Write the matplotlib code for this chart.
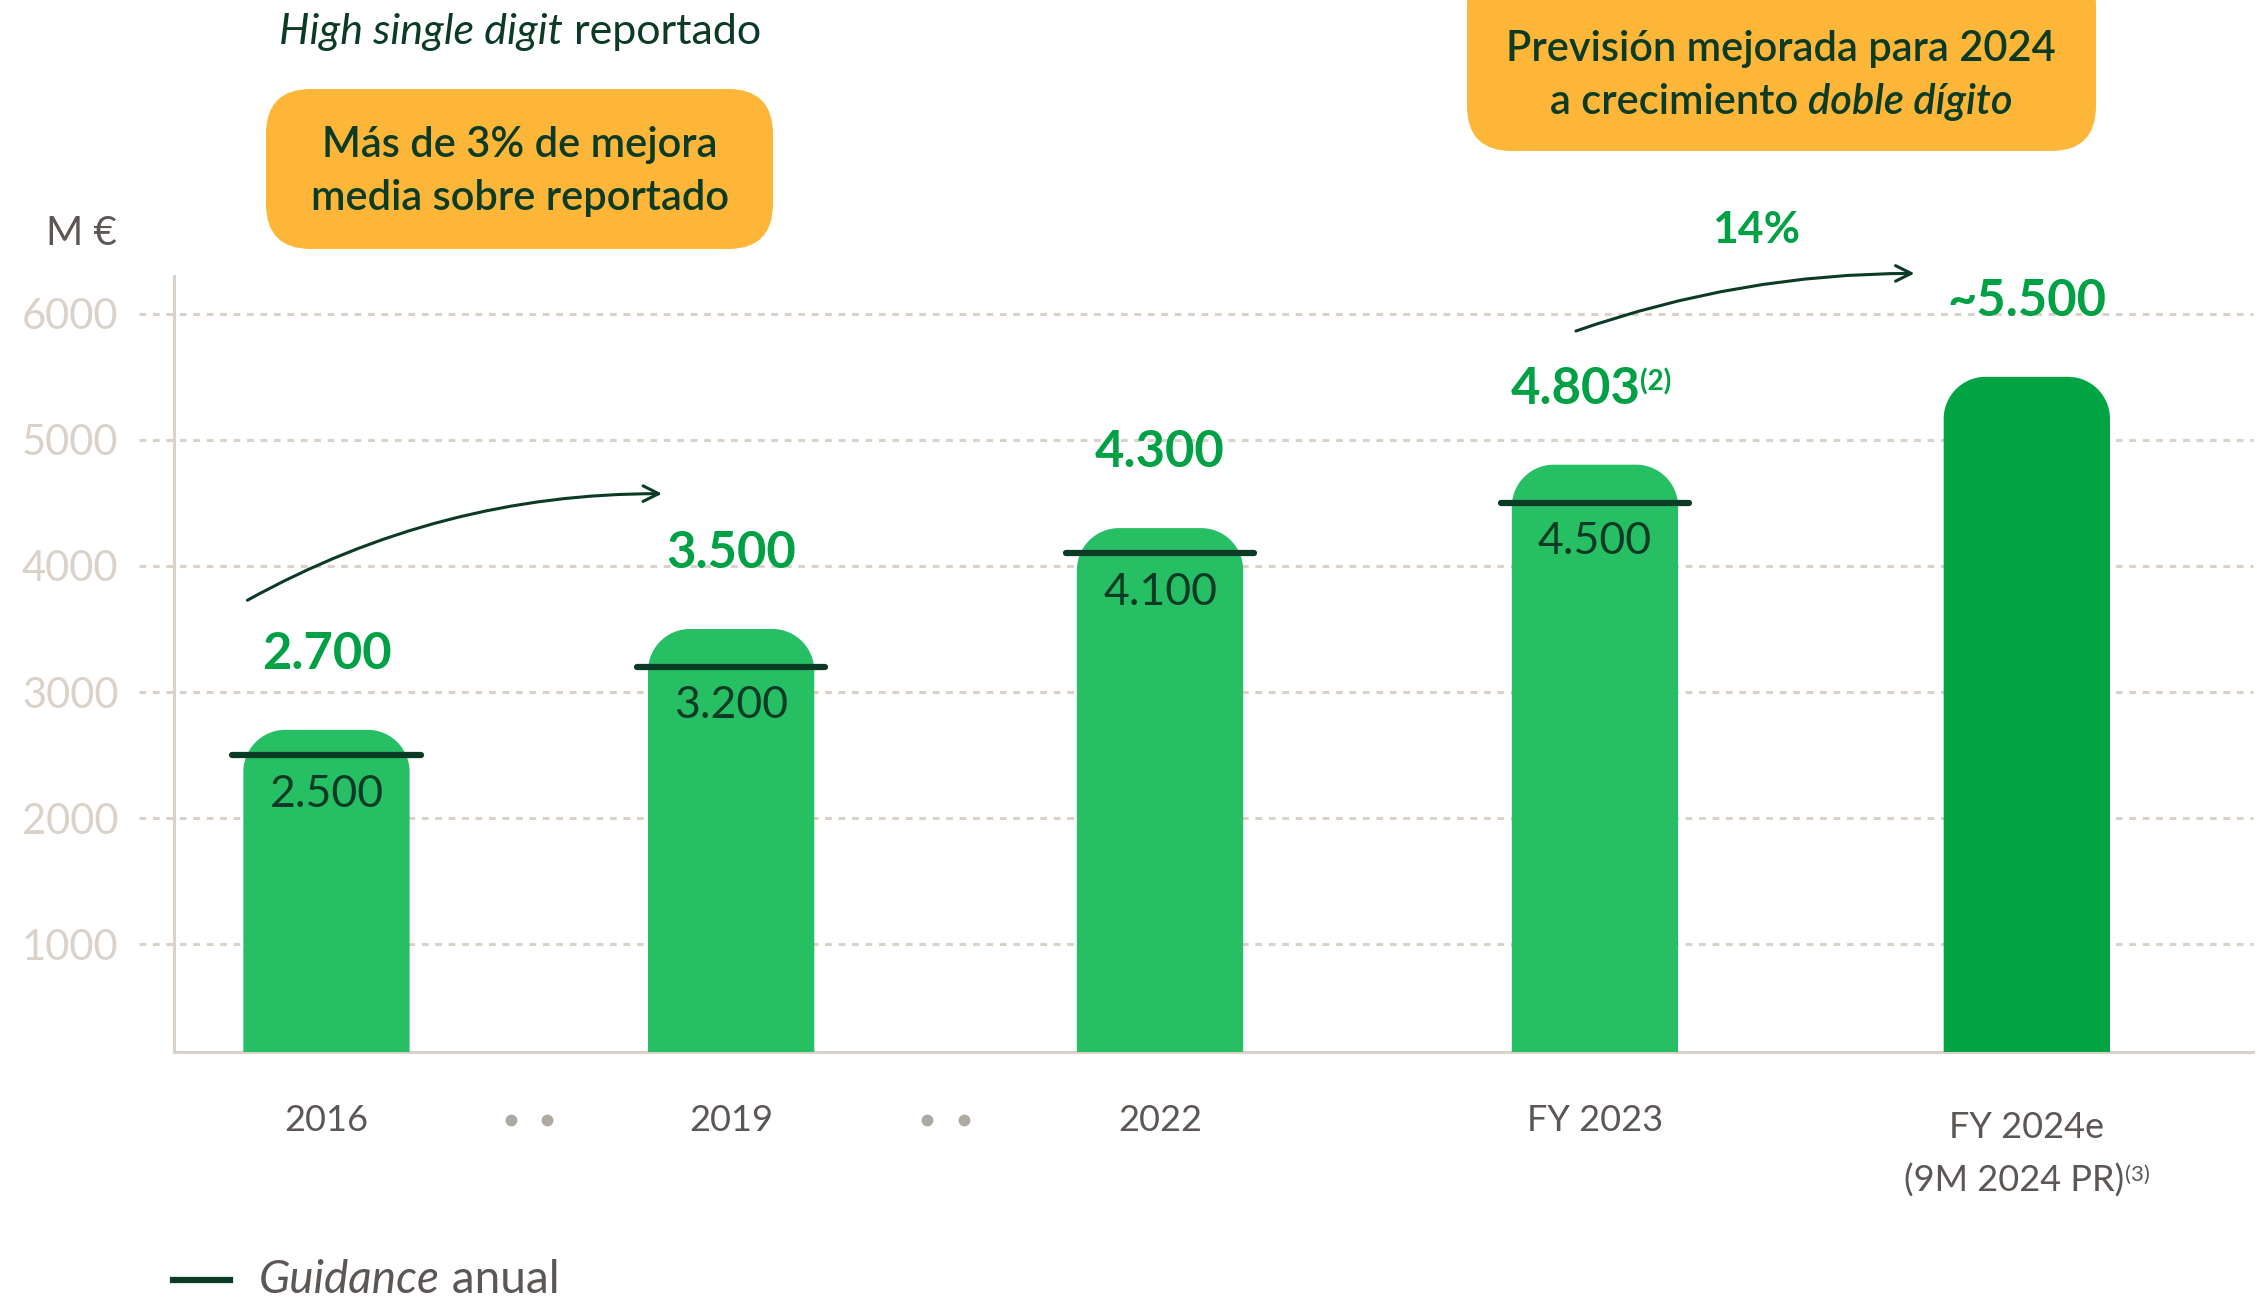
"""
Evolución de ventas con guidance anual (M €), 2016 - FY 2024e.
"""

import matplotlib
matplotlib.use("Agg")
import matplotlib.pyplot as plt
from matplotlib.patches import FancyBboxPatch, PathPatch
from matplotlib.path import Path
from matplotlib.transforms import IdentityTransform

plt.rcParams["font.family"] = ["Lato", "DejaVu Sans"]

# data
categories = ["2016", "2019", "2022", "FY 2023", "FY 2024e"]
actual = [2700, 3500, 4300, 4803, 5500]
guidance = [2500, 3200, 4100, 4500, None]
actual_labels = ["2.700", "3.500", "4.300", "4.803", "~5.500"]
guidance_labels = ["2.500", "3.200", "4.100", "4.500", None]
y_ticks = [1000, 2000, 3000, 4000, 5000, 6000]
growth_label = "14%"

# colours
GREEN = "#27bf64"
GREEN_DARK = "#00a443"
LABEL_GREEN = "#00a044"
DARK = "#0b3b24"
ORANGE = "#feb639"
GREY = "#5c5754"
BEIGE = "#dad1c9"
DOT = "#aea8a2"

W, H = 2257, 1301
fig = plt.figure(figsize=(W / 100, H / 100), dpi=100)
ax = fig.add_axes([0.0771, 0.1914, 0.921, 0.5965])

x_pos = [0, 0.937, 1.93, 2.937, 3.937]
XMIN, XMAX = -0.353, 4.46
YMIN, YMAX = 145, 6300
ax.set_xlim(XMIN, XMAX)
ax.set_ylim(YMIN, YMAX)

bar_w = 0.385
r_px = 42
ax_w_px = 0.921 * W
ax_h_px = 0.5965 * H
rx = r_px / ax_w_px * (XMAX - XMIN)
ry = r_px / ax_h_px * (YMAX - YMIN)


def rounded_bar(x, top, color):
    x0, x1 = x - bar_w / 2, x + bar_w / 2
    k = 0.5523
    verts = [
        (x0, YMIN - 200),
        (x0, top - ry),
        (x0, top - ry + k * ry), (x0 + rx - k * rx, top), (x0 + rx, top),
        (x1 - rx, top),
        (x1 - rx + k * rx, top), (x1, top - ry + k * ry), (x1, top - ry),
        (x1, YMIN - 200),
        (x0, YMIN - 200),
    ]
    codes = [Path.MOVETO, Path.LINETO,
             Path.CURVE4, Path.CURVE4, Path.CURVE4,
             Path.LINETO,
             Path.CURVE4, Path.CURVE4, Path.CURVE4,
             Path.LINETO, Path.CLOSEPOLY]
    ax.add_patch(PathPatch(Path(verts, codes), facecolor=color,
                           edgecolor="none", zorder=3))


# grid lines, slightly into the left margin like the original
ax.hlines(y_ticks, -0.433, XMAX, colors=BEIGE, linestyles=(0, (2.2, 2.2)),
          lw=2.2, clip_on=False, zorder=1)

for spine in ["top", "right"]:
    ax.spines[spine].set_visible(False)
for spine in ["left", "bottom"]:
    ax.spines[spine].set_color(BEIGE)
    ax.spines[spine].set_linewidth(2.2)
ax.set_xticks([])
ax.set_yticks(y_ticks)
ax.set_yticklabels([str(t) for t in y_ticks], fontsize=30, color=BEIGE)
ax.tick_params(axis="y", length=0, pad=40)

for i, (x, val) in enumerate(zip(x_pos, actual)):
    color = GREEN_DARK if i == len(actual) - 1 else GREEN
    rounded_bar(x, val, color)
    # FY 2023 carries a footnote, so its number sits a little to the left
    lx = x - 0.045 if actual_labels[i] == "4.803" else x
    ax.text(lx, val + 600, actual_labels[i], ha="center", va="center",
            fontsize=36.5, fontweight="bold", color=LABEL_GREEN, zorder=5,
            clip_on=False)
    g = guidance[i]
    if g is not None:
        ax.plot([x - 0.218, x + 0.218], [g, g], color=DARK, lw=4.5,
                solid_capstyle="round", zorder=4)
        ax.text(x, g - 310, guidance_labels[i], ha="center", va="center",
                fontsize=32, color=DARK, zorder=5)

# footnote on FY 2023 value
t23 = ax.texts[[t.get_text() for t in ax.texts].index("4.803")]
ax.annotate("(2)", xy=(1, 1), xycoords=t23, xytext=(0, -2),
            textcoords="offset points", ha="left", va="top",
            fontsize=20, fontweight="bold", color=LABEL_GREEN)

# category labels
for x, cat in zip(x_pos[:-1], categories[:-1]):
    ax.text(x, -400, cat, ha="center", va="center", fontsize=26,
            color=GREY, clip_on=False)
ax.text(x_pos[-1], -450, categories[-1], ha="center", va="center",
        fontsize=26, color=GREY, clip_on=False)
t24 = ax.text(x_pos[-1] - 0.03, -872, "(9M 2024 PR)", ha="center",
              va="center", fontsize=26, color=GREY, clip_on=False)
ax.annotate("(3)", xy=(1, 1), xycoords=t24, xytext=(1, -1),
            textcoords="offset points", ha="left", va="top",
            fontsize=16, color=GREY)

# dots marking skipped years
for a, b in [(0, 1), (1, 2)]:
    mid = (x_pos[a] + x_pos[b]) / 2
    ax.plot([mid - 0.042, mid + 0.042], [-393, -393], "o", ms=8.5,
            color=DOT, mec="none", clip_on=False)

# growth arrows
ax.annotate("", xy=(0.777, 4573), xytext=(-0.183, 3728),
            arrowprops=dict(arrowstyle="->", connectionstyle="arc3,rad=-0.13",
                            lw=2.2, color=DARK, mutation_scale=28,
                            shrinkA=0, shrinkB=0),
            annotation_clip=False)
ax.annotate("", xy=(3.677, 6320), xytext=(2.893, 5863),
            arrowprops=dict(arrowstyle="->", connectionstyle="arc3,rad=-0.085",
                            lw=2.2, color=DARK, mutation_scale=28,
                            shrinkA=0, shrinkB=0),
            annotation_clip=False)
ax.text(3.31, 6662, growth_label, ha="center", va="center", fontsize=32,
        fontweight="bold", color=LABEL_GREEN, clip_on=False)

# unit label
fig.text(0.0359, 0.8209, "M €", ha="center", va="center", fontsize=29,
         color=GREY)

renderer = fig.canvas.get_renderer()


def mixed_line(x, y, parts, size, weight="normal", color=DARK, ha="center"):
    """Place text parts [(text, style)] side by side."""
    texts = []
    for s, style in parts:
        t = fig.text(0, y, s, ha="left", va="center", fontsize=size,
                     fontstyle=style, fontweight=weight, color=color)
        texts.append(t)
    widths = [t.get_window_extent(renderer).width / W for t in texts]
    if ha == "center":
        x = x - sum(widths) / 2
    for t, w in zip(texts, widths):
        t.set_x(x)
        x += w
    return texts


# orange call-out boxes, drawn in pixels so the corners stay round
for x0, x1, y0, y1 in [(266, 773, 1301 - 249, 1301 - 89),
                       (1467, 2096, 1301 - 151, 1340)]:
    fig.patches.append(FancyBboxPatch(
        (x0, y0), x1 - x0, y1 - y0,
        boxstyle="round,pad=0,rounding_size=45",
        transform=IdentityTransform(), facecolor=ORANGE, edgecolor="none"))

mixed_line(0.2305, 0.9754, [("High single digit", "italic"),
                            (" reportado", "normal")], 31)
mixed_line(0.2305, 0.8885, [("Más de 3% de mejora", "normal")], 30,
           weight="semibold")
mixed_line(0.2305, 0.8475, [("media sobre reportado", "normal")], 30,
           weight="semibold")
mixed_line(0.7892, 0.9625, [("Previsión mejorada para 2024", "normal")], 30,
           weight="semibold")
mixed_line(0.7892, 0.9215, [("a crecimiento ", "normal"),
                            ("doble dígito", "italic")], 30, weight="semibold")

# legend
fig.add_artist(plt.Line2D([0.0767, 0.1019], [0.0161, 0.0161],
                          transform=fig.transFigure, color=DARK, lw=4.5))
mixed_line(0.1148, 0.0161, [("Guidance", "italic"), (" anual", "normal")],
           33, color=GREY, ha="left")

fig.savefig("out.png", dpi=100)
